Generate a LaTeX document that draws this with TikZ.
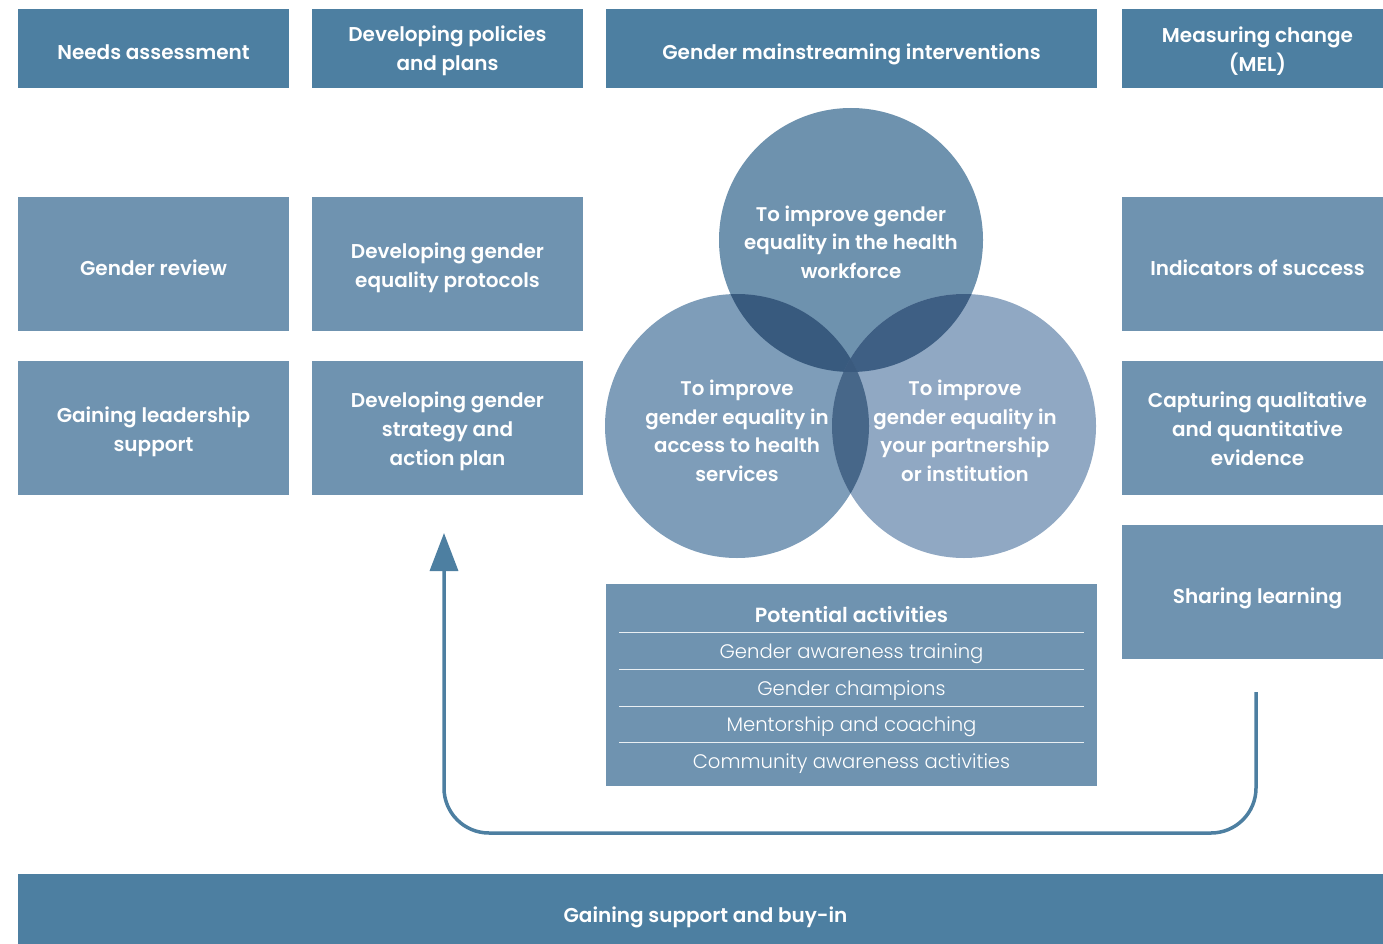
\documentclass[tikz,border=0pt]{standalone}
\usepackage{fontspec}
\setmainfont{Poppins}[BoldFont={Poppins SemiBold}]
\newfontfamily\lightfont{Poppins Light}
\usetikzlibrary{arrows.meta}
\definecolor{deepblue}{HTML}{4D7FA1}
\definecolor{softblue}{HTML}{6F93B0}
\definecolor{ctop}{HTML}{6E92AE}
\definecolor{cleft}{HTML}{7E9DB9}
\definecolor{cright}{HTML}{90A8C3}
\definecolor{ovtl}{HTML}{385A7E}
\definecolor{ovtr}{HTML}{3E5F84}
\definecolor{ovlr}{HTML}{476789}
\definecolor{ovall}{HTML}{3A5A7E}
\tikzset{
  tile/.style={inner sep=0pt},
  headtile/.style={tile, fill=deepblue, minimum height=79pt},
  celltile/.style={tile, fill=softblue, minimum height=134pt},
  narrow/.style={minimum width=271pt},
  tiletext/.style={inner sep=0pt, align=center, text=white,
    font=\fontsize{20}{29}\selectfont\bfseries,
    execute at begin node=\strut, execute at end node=\strut},
  circletext/.style={align=center, text=white,
    font=\fontsize{19.8}{28.5}\selectfont\bfseries},
  itemtext/.style={text=white, font=\fontsize{19.6}{24}\lightfont},
  rule/.style={white!85!softblue, line width=1pt},
  flow/.style={deepblue, line width=3.5pt, rounded corners=45pt,
    -{Triangle[width=28pt,length=38pt]}}
}
% a filled tile with its caption set a little below the centre
\newcommand\tilebox[6][5.5pt]{%
  \node[#2] (#3) at (#4) {};
  \node[tiletext] (#3-text) at ([yshift=-#1]#3.center) {#6};}
\begin{document}
\begin{tikzpicture}[x=1pt,y=-1pt]
\useasboundingbox (0,0) rectangle (1383,944);

% column headings (the last column runs past the right edge)
\tilebox{headtile, narrow}{hneeds}{153.5,48.5}{}{Needs assessment}
\tilebox[4pt]{headtile, narrow}{hpolicy}{447.5,48.5}{}{Developing policies\\and plans}
\tilebox{headtile, minimum width=491pt}{hmain}{851.5,48.5}{}{Gender mainstreaming interventions}
\tilebox{headtile, narrow}{hmel}{1257.5,48.5}{}{Measuring change\\(MEL)}

% left columns
\tilebox{celltile, narrow}{review}{153.5,264}{}{Gender review}
\tilebox{celltile, narrow}{leader}{153.5,428}{}{Gaining leadership\\support}
\tilebox{celltile, narrow}{protocols}{447.5,264}{}{Developing gender\\equality protocols}
\tilebox{celltile, narrow}{strategy}{447.5,428}{}{Developing gender\\strategy and\\action plan}

% right column
\tilebox{celltile, narrow}{indic}{1257.5,264}{}{Indicators of success}
\tilebox{celltile, narrow}{evid}{1257.5,428}{}{Capturing qualitative\\and quantitative\\evidence}
\tilebox{celltile, narrow}{share}{1257.5,592}{}{Sharing learning}

% three overlapping goals
\def\rad{132}
\fill[ctop] (851,240) circle (\rad);
\fill[cleft] (737,426) circle (\rad);
\fill[cright] (964,426) circle (\rad);
\begin{scope}
  \clip (851,240) circle (\rad);
  \fill[ovtl] (737,426) circle (\rad);
  \fill[ovtr] (964,426) circle (\rad);
\end{scope}
\begin{scope}
  \clip (737,426) circle (\rad);
  \fill[ovlr] (964,426) circle (\rad);
  \clip (964,426) circle (\rad);
  \fill[ovall] (851,240) circle (\rad);
\end{scope}
\node[circletext] (gwork) at (851,242) {To improve gender\\equality in the health\\workforce};
\node[circletext] (gaccess) at (737,431) {To improve\\gender equality in\\access to health\\services};
\node[circletext] (gpart) at (965,431) {To improve\\gender equality in\\your partnership\\or institution};

% potential activities
\node[fill=softblue, minimum width=491pt, minimum height=202pt, inner sep=0pt] (acts) at (851.5,685) {};
\node[circletext, font=\fontsize{20.5}{24}\selectfont\bfseries] (actstitle) at (851.5,615) {Potential activities};
\node[itemtext] (act1) at (851.5,654) {Gender awareness training};
\node[itemtext] (act2) at (851.5,691) {Gender champions};
\node[itemtext] (act3) at (851.5,727) {Mentorship and coaching};
\node[itemtext] (act4) at (851.5,764) {Community awareness activities};
\foreach \yy in {632,669,706,742}
  \draw[rule] (619,\yy) -- (1084,\yy);

% support bar, also running past the right edge
\tilebox[7.2pt]{tile, fill=deepblue, minimum width=1375pt, minimum height=70pt}{support}{705.5,909}{}{Gaining support and buy-in}

% feedback loop
\coordinate (loopstart) at (1256,692);
\coordinate (looptip) at (444,533);
\draw[flow] (loopstart) -- (1256,833) -- (444,833) -- (looptip);
\end{tikzpicture}
\end{document}
